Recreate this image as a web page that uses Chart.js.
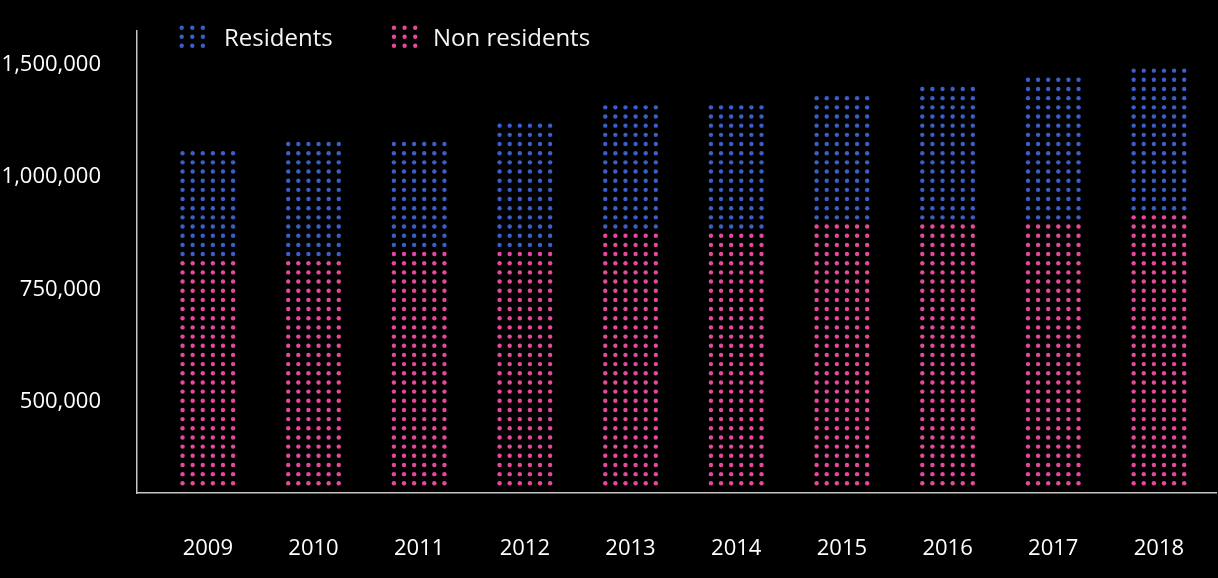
<!DOCTYPE html>
<html>
<head>
<meta charset="utf-8">
<title>Residents and non residents, 2009-2018</title>
<script src="https://cdn.jsdelivr.net/npm/chart.js@4.4.1/dist/chart.umd.min.js"></script>
<style>
  html, body { margin: 0; padding: 0; background: #000; }
  #box { width: 1218px; height: 578px; }
</style>
</head>
<body>
<div id="box"><canvas id="myChart" width="1218" height="578"></canvas></div>
<script>
const years = ["2009", "2010", "2011", "2012", "2013", "2014", "2015", "2016", "2017", "2018"];
const nonResidents = [813000, 815000, 832000, 836000, 874000, 876000, 893000, 896000, 898000, 915000];
const residents = [245000, 263000, 248000, 284000, 286000, 282000, 288000, 304000, 324000, 327000];
const yTickValues = [500000, 750000, 1000000, 1250000];
const yTickLabels = ["500,000", "750,000", "1,000,000", "1,500,000"];

const BLUE = "#3b5fc9";
const PINK = "#e6489b";
const FONT = "'Open Sans', 'Noto Sans', sans-serif";

// bars are not filled flat, they get a grid of dots (rows run from the x axis up)
const dotFillPlugin = {
  id: "dotFill",
  afterDatasetsDraw(chart, args, opts) {
    const ctx = chart.ctx;
    const area = chart.chartArea;
    ctx.save();
    chart.data.datasets.forEach((dataset, di) => {
      const meta = chart.getDatasetMeta(di);
      ctx.fillStyle = dataset.dotColor;
      meta.data.forEach((bar) => {
        const p = bar.getProps(["x", "y", "base", "width"], true);
        const top = Math.min(p.y, p.base);
        const bottom = Math.max(p.y, p.base);
        const colGap = p.width / opts.cols;
        for (let n = 0; ; n++) {
          const cy = area.bottom - opts.rowOffset - n * opts.rowGap;
          if (cy < top) break;
          if (cy >= bottom) continue;
          for (let c = 0; c < opts.cols; c++) {
            const cx = p.x - p.width / 2 + colGap * (c + 0.5);
            ctx.beginPath();
            ctx.arc(cx, cy, opts.radius, 0, Math.PI * 2);
            ctx.fill();
          }
        }
      });
    });
    ctx.restore();
  },
};

// legend with a small 3x3 dot swatch in front of each label
const dotLegendPlugin = {
  id: "dotLegend",
  afterDraw(chart, args, opts) {
    const ctx = chart.ctx;
    ctx.save();
    ctx.font = opts.font;
    ctx.textBaseline = "middle";
    opts.items.forEach((item) => {
      const ds = chart.data.datasets[item.dataset];
      ctx.fillStyle = ds.dotColor;
      for (let r = 0; r < 3; r++) {
        for (let c = 0; c < 3; c++) {
          ctx.beginPath();
          ctx.arc(item.x + c * opts.dx, opts.y - opts.dy + r * opts.dy, opts.radius, 0, Math.PI * 2);
          ctx.fill();
        }
      }
      ctx.fillStyle = opts.color;
      ctx.fillText(ds.label, item.textX, opts.textY);
    });
    ctx.restore();
  },
};

const ctx = document.getElementById("myChart").getContext("2d");

new Chart(ctx, {
  type: "bar",
  data: {
    datasets: [
      {
        label: "Non residents",
        data: nonResidents.map((v, i) => ({ x: +years[i], y: v })),
        backgroundColor: "rgba(0,0,0,0)",
        dotColor: PINK,
      },
      {
        label: "Residents",
        data: residents.map((v, i) => ({ x: +years[i], y: v })),
        backgroundColor: "rgba(0,0,0,0)",
        dotColor: BLUE,
      },
    ],
  },
  options: {
    responsive: false,
    animation: false,
    events: [],
    layout: { padding: { top: 31, right: 2, left: 0, bottom: 0 } },
    datasets: { bar: { barPercentage: 0.574, categoryPercentage: 1 } },
    scales: {
      x: {
        type: "linear",
        stacked: true,
        offset: false,
        min: 2008.33,
        max: 2018.54,
        afterBuildTicks: (axis) => {
          axis.ticks = years.map((y) => ({ value: +y }));
        },
        afterFit: (axis) => {
          axis.height = 85;
          axis.paddingLeft = 0;
          axis.paddingRight = 0;
        },
        grid: { display: false, drawTicks: false },
        border: { display: true, color: "#c4c4c4", width: 1.5 },
        ticks: {
          color: "#ffffff",
          font: { family: FONT, size: 22 },
          padding: 43,
          maxRotation: 0,
          autoSkip: false,
          callback: (v, i) => years[i],
        },
      },
      y: {
        stacked: true,
        min: 293333,
        max: 1320000,
        afterBuildTicks: (axis) => {
          axis.ticks = yTickValues.map((v) => ({ value: v }));
        },
        afterFit: (axis) => {
          axis.width = 137;
          axis.paddingTop = 0;
          axis.paddingBottom = 0;
        },
        grid: { display: false, drawTicks: false },
        border: { display: true, color: "#c4c4c4", width: 1.5 },
        ticks: {
          color: "#ffffff",
          font: { family: FONT, size: 22 },
          padding: 36,
          labelOffset: 2,
          callback: (v, i) => yTickLabels[i],
        },
      },
    },
    plugins: {
      legend: { display: false },
      tooltip: { enabled: false },
      dotFill: { cols: 6, rowGap: 9.17, rowOffset: 9.7, radius: 2.2 },
      dotLegend: {
        items: [
          { dataset: 1, x: 181.7, textX: 224 },
          { dataset: 0, x: 394, textX: 433 },
        ],
        y: 36.7,
        dx: 10.6,
        dy: 9,
        radius: 2.2,
        textY: 39,
        font: "24px " + FONT,
        color: "#f4f4f4",
      },
    },
  },
  plugins: [dotFillPlugin, dotLegendPlugin],
});
</script>
</body>
</html>
